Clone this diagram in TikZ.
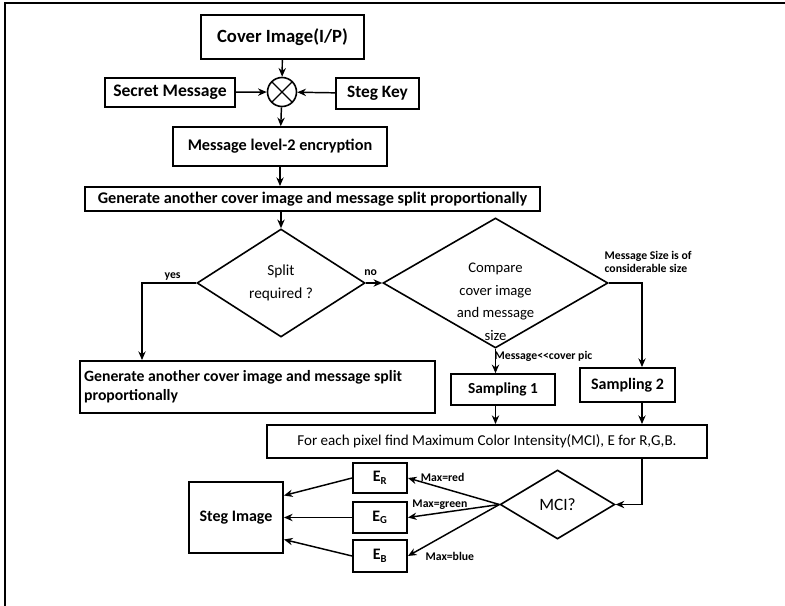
\documentclass[tikz,border=0pt]{standalone}
\usepackage{fontspec}
\setmainfont{Carlito}
\usepackage{tikz}
\usetikzlibrary{positioning, arrows.meta, shapes.geometric, calc}

\begin{document}
\begin{tikzpicture}[
        x=0.75pt, y=-0.75pt,
        stepbox/.style={draw=black, line width=1.4pt, align=center, inner sep=2pt, font=\bfseries\fontsize{12}{14}\selectfont},
        decision/.style={draw=black, line width=1.2pt, diamond, inner sep=0pt, aspect=1.6, align=center, font=\fontsize{11.5}{17}\selectfont},
        arrow/.style={-{Stealth[length=6.5pt, width=5.5pt]}, line width=1.1pt},
        tag/.style={inner sep=1pt, font=\bfseries\fontsize{8.8}{9.5}\selectfont}
    ]

    \useasboundingbox (0,0) rectangle (785,606);
    \draw[line width=2.2pt] (785,3) -- (5,3) -- (5,606);

    % input part
    \node[stepbox, minimum width=122pt, minimum height=33pt, font=\bfseries\fontsize{14}{16}\selectfont] (cover) at (282.5,37) {Cover Image(I/P)};
    \node[draw, circle, line width=1.2pt, minimum size=21.75pt, inner sep=0pt,
          path picture={\draw[line width=1pt] (path picture bounding box.north west) -- (path picture bounding box.south east)
                                              (path picture bounding box.south west) -- (path picture bounding box.north east);}] (mix) at (282,92) {};
    \node[stepbox, minimum width=97.5pt, minimum height=21.75pt, font=\bfseries\fontsize{13.2}{15}\selectfont] (secret) at (170,92.5) {Secret Message};
    \node[stepbox, minimum width=62pt, minimum height=23pt, font=\bfseries\fontsize{13}{15}\selectfont] (key) at (377.5,93.5) {Steg Key};
    \node[stepbox, minimum width=160.5pt, minimum height=29pt, font=\bfseries\fontsize{12.2}{14}\selectfont] (enc) at (280,146.5) {Message level-2 encryption};
    \node[stepbox, minimum width=341pt, minimum height=18pt, font=\bfseries\fontsize{12.2}{14}\selectfont] (gen) at (312.5,199) {Generate another cover image and message split proportionally};

    % decisions
    \node[decision, minimum width=126pt, minimum height=81pt] (split) at (281,283) {Split\\required ?};
    \node[decision, minimum width=168.75pt, minimum height=97.5pt,
          label={[yshift=-14pt, align=center, font=\fontsize{11}{17}\selectfont]center:{Compare\\cover image\\and message\\size}}] (cmp) at (495.5,283) {};
    \node[stepbox, minimum width=266pt, minimum height=39pt, text width=260pt, align=flush left, font=\bfseries\fontsize{11.8}{14.5}\selectfont] (gen2) at (257.5,387) {Generate another cover image and message split proportionally};
    \node[stepbox, minimum width=78pt, minimum height=23pt, font=\bfseries\fontsize{11.5}{14}\selectfont] (samp1) at (503,389.5) {Sampling 1};
    \node[stepbox, minimum width=71pt, minimum height=25.5pt] (samp2) at (627.5,385) {Sampling 2};

    \coordinate (yesturn) at (142,283);
    \coordinate (col) at (642,283);

    % embedding part
    \node[stepbox, minimum width=330pt, minimum height=24.75pt, font=\fontsize{11.3}{13}\selectfont] (forbox) at (487,441.5) {For each pixel find Maximum Color Intensity(MCI), E for R,G,B.};
    \node[decision, minimum width=86pt, minimum height=51.75pt, font=\fontsize{13}{15}\selectfont] (mci) at (557.5,504.5) {MCI?};
    \node[stepbox, minimum width=40.5pt, minimum height=22.5pt] (er) at (380,478) {E\textsubscript{R}};
    \node[stepbox, minimum width=40.5pt, minimum height=23pt] (eg) at (380,517.5) {E\textsubscript{G}};
    \node[stepbox, minimum width=40.5pt, minimum height=24pt] (eb) at (380,556) {E\textsubscript{B}};
    \node[stepbox, minimum width=70.5pt, minimum height=53pt] (steg) at (236,517.5) {Steg Image};

    \draw[arrow] (cover) -- (mix);
    \draw[arrow] (secret) -- (mix);
    \draw[arrow] (key) -- (mix);
    \draw[arrow] (mix) -- (enc);
    \draw[arrow] (enc) -- (enc |- gen.north);
    \draw[arrow] (split.north |- gen.south) -- (split.north);
    \draw[arrow] (split.west) -- (yesturn) -- (yesturn |- gen2.north);
    \node[tag, above=1pt of yesturn, xshift=23pt] (yes) {yes};
    \draw[arrow] (split.east) -- (cmp.west) node[tag, pos=0.3, above=4pt] (no) {no};
    \draw[arrow] (cmp.east) -- (col) -- (col |- samp2.north);
    \node[tag, align=left, anchor=south west] (big) at (603,274) {Message Size is of\\considerable size};
    \draw[arrow] (cmp.south) -- (cmp.south |- samp1.north);
    \node[tag, anchor=west] (small) at (493,356) {Message<{}<cover pic};
    \draw[arrow] (cmp.south |- samp1.south) -- (cmp.south |- forbox.north);
    \draw[arrow] (col |- samp2.south) -- (col |- forbox.north);
    \draw[arrow] (col |- forbox.south) |- (mci.east);

    \draw[arrow] (mci.west) -- (er.east) node[tag, pos=0.62, above=3pt] (mred) {Max=red};
    \draw[arrow] (mci.west) -- (eg.east) node[tag, pos=0.65, above=1pt] (mgreen) {Max=green};
    \draw[arrow] (mci.west) -- (eb.east) node[tag, pos=0.6, below=11pt, xshift=4pt] (mblue) {Max=blue};
    \draw[arrow] (er.west) -- ($(steg.east)+(0,-22)$);
    \draw[arrow] (eg.west) -- (steg.east);
    \draw[arrow] (eb.west) -- ($(steg.east)+(0,22)$);

\end{tikzpicture}
\end{document}
